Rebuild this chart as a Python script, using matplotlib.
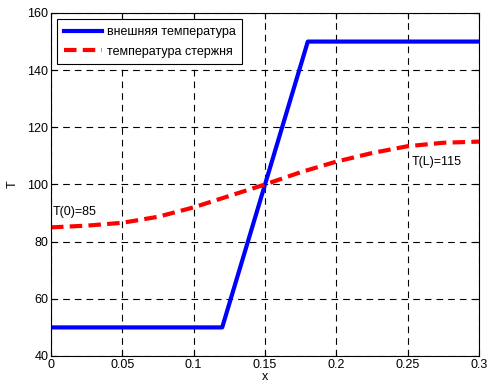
import numpy as np
import matplotlib
matplotlib.use('Agg')
import matplotlib.pyplot as plt

plt.rcParams['font.family'] = ['Liberation Sans', 'DejaVu Sans']

# outer temperature (piecewise linear)
x_out = [0, 0.12, 0.18, 0.3]
t_out = [50, 50, 150, 150]

# rod temperature
x_rod = [0, 0.025, 0.05, 0.075, 0.1, 0.125, 0.15, 0.175, 0.2, 0.225, 0.25, 0.275, 0.3]
t_rod = [85, 85.6, 86.6, 88.7, 92, 96, 100, 104.3, 108, 111, 113.4, 114.6, 115]

fig = plt.figure(figsize=(4.87, 3.9), dpi=100)
ax = fig.add_axes([0.1047, 0.0872, 0.8789, 0.8795])

ax.plot(x_out, t_out, color='#0000ff', lw=3, label='внешняя температура')
ax.plot(x_rod, t_rod, color='#ff0000', lw=3, ls=(0, (3, 1.5)), label='температура стержня')

ax.set_xlim(0, 0.3)
ax.set_ylim(40, 160)
ax.set_xticks([0, 0.05, 0.1, 0.15, 0.2, 0.25, 0.3])
ax.set_xticklabels(['0', '0.05', '0.1', '0.15', '0.2', '0.25', '0.3'])
ax.set_yticks(range(40, 161, 20))
ax.tick_params(direction='in', top=True, right=True, labelsize=9, length=4, pad=2)
ax.grid(True, color='black', ls=(0, (6, 4.5)), lw=0.8)
ax.set_xlabel('x', fontsize=9, labelpad=0)
ax.set_ylabel('T', fontsize=9, labelpad=6)

ax.text(0.001, 90.5, 'T(0)=85', fontsize=9, va='center')
ax.text(0.253, 108, 'T(L)=115', fontsize=9, va='center')

leg = ax.legend(loc='upper left', fontsize=9, fancybox=False, framealpha=1,
                edgecolor='black', handlelength=3.0, handletextpad=0.4,
                borderaxespad=0.5, borderpad=0.55, labelspacing=0.6)
leg.get_frame().set_linewidth(0.8)

fig.savefig('out.png', dpi=100)
